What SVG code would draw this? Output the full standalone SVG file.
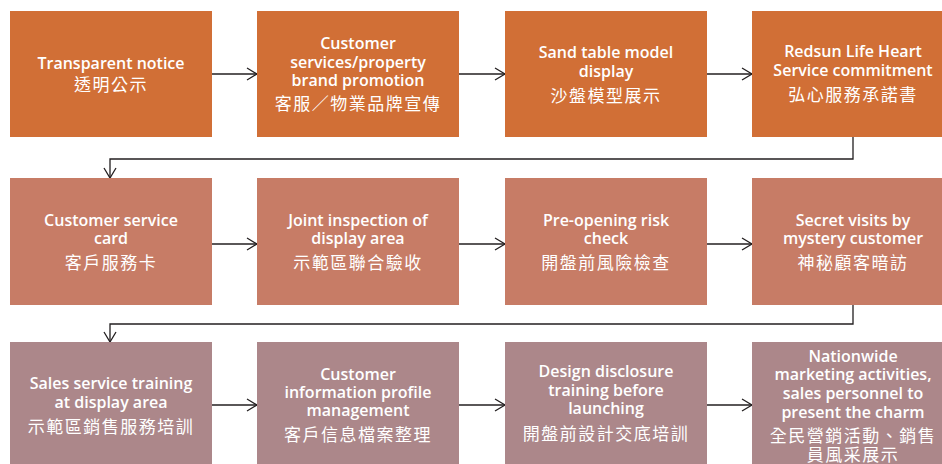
<svg xmlns="http://www.w3.org/2000/svg" width="942" height="464" viewBox="0 0 942 464">
<defs>
<style>
.r1{fill:#D16F36}.r2{fill:#C77C66}.r3{fill:#AC878A}
.en{font-family:"Open Sans","Liberation Sans",sans-serif;font-weight:600;font-size:16px;fill:#FFFFFF;text-anchor:middle}
.zh{font-family:"Noto Sans CJK TC","Noto Sans CJK SC",sans-serif;font-size:17px;fill:#FFFFFF;text-anchor:middle;letter-spacing:1.5px}
.ln{fill:none;stroke:#231F20;stroke-width:1.3}
</style>
<marker id="ah" markerUnits="userSpaceOnUse" markerWidth="14" markerHeight="16" viewBox="-12 -8 14 16" refX="0" refY="0" orient="auto">
<path d="M-10,-6 L0,0 L-10,6" fill="none" stroke="#231F20" stroke-width="1.3"/>
</marker>
</defs>
<rect width="942" height="464" fill="#FFFFFF"/>
<g id="connectors">
<path class="ln" d="M212,74 H257" marker-end="url(#ah)"/>
<path class="ln" d="M459,74 H505" marker-end="url(#ah)"/>
<path class="ln" d="M707,74 H752" marker-end="url(#ah)"/>
<path class="ln" d="M853,137 V159 H110 V178" marker-end="url(#ah)"/>
<path class="ln" d="M212,244 H257" marker-end="url(#ah)"/>
<path class="ln" d="M459,244 H505" marker-end="url(#ah)"/>
<path class="ln" d="M707,244 H752" marker-end="url(#ah)"/>
<path class="ln" d="M853,305 V324 H110 V342" marker-end="url(#ah)"/>
<path class="ln" d="M212,405 H257" marker-end="url(#ah)"/>
<path class="ln" d="M459,405 H505" marker-end="url(#ah)"/>
<path class="ln" d="M707,405 H752" marker-end="url(#ah)"/>
</g>
<g id="n1">
<rect class="r1" x="10" y="11" width="202" height="126"/>
<text class="en" x="111" y="69">Transparent notice</text>
<text class="zh" x="111" y="91">透明公示</text>
</g>
<g id="n2">
<rect class="r1" x="257" y="11" width="202" height="126"/>
<text class="en" x="358" y="49">Customer</text>
<text class="en" x="358" y="67.5">services/property</text>
<text class="en" x="358" y="86">brand promotion</text>
<text class="zh" x="358" y="110">客服／物業品牌宣傳</text>
</g>
<g id="n3">
<rect class="r1" x="505" y="11" width="202" height="126"/>
<text class="en" x="606" y="58">Sand table model</text>
<text class="en" x="606" y="77">display</text>
<text class="zh" x="606" y="102">沙盤模型展示</text>
</g>
<g id="n4">
<rect class="r1" x="752" y="11" width="202" height="126"/>
<text class="en" x="853" y="57">Redsun Life Heart</text>
<text class="en" x="853" y="76">Service commitment</text>
<text class="zh" x="853" y="101">弘心服務承諾書</text>
</g>
<g id="n5">
<rect class="r2" x="10" y="178" width="202" height="127"/>
<text class="en" x="111" y="226">Customer service</text>
<text class="en" x="111" y="244">card</text>
<text class="zh" x="111" y="269">客戶服務卡</text>
</g>
<g id="n6">
<rect class="r2" x="257" y="178" width="202" height="127"/>
<text class="en" x="358" y="226">Joint inspection of</text>
<text class="en" x="358" y="244">display area</text>
<text class="zh" x="358" y="269">示範區聯合驗收</text>
</g>
<g id="n7">
<rect class="r2" x="505" y="178" width="202" height="127"/>
<text class="en" x="606" y="226">Pre-opening risk</text>
<text class="en" x="606" y="244">check</text>
<text class="zh" x="606" y="269">開盤前風險檢查</text>
</g>
<g id="n8">
<rect class="r2" x="752" y="178" width="202" height="127"/>
<text class="en" x="853" y="226">Secret visits by</text>
<text class="en" x="853" y="244">mystery customer</text>
<text class="zh" x="853" y="269">神秘顧客暗訪</text>
</g>
<g id="n9">
<rect class="r3" x="10" y="342" width="202" height="127"/>
<text class="en" x="111" y="389">Sales service training</text>
<text class="en" x="111" y="408">at display area</text>
<text class="zh" x="111" y="433">示範區銷售服務培訓</text>
</g>
<g id="n10">
<rect class="r3" x="257" y="342" width="202" height="127"/>
<text class="en" x="358" y="380">Customer</text>
<text class="en" x="358" y="398">information profile</text>
<text class="en" x="358" y="416">management</text>
<text class="zh" x="358" y="441">客戶信息檔案整理</text>
</g>
<g id="n11">
<rect class="r3" x="505" y="342" width="202" height="127"/>
<text class="en" x="606" y="377">Design disclosure</text>
<text class="en" x="606" y="396">training before</text>
<text class="en" x="606" y="414">launching</text>
<text class="zh" x="606" y="440">開盤前設計交底培訓</text>
</g>
<g id="n12">
<rect class="r3" x="752" y="342" width="202" height="127"/>
<text class="en" x="853" y="362">Nationwide</text>
<text class="en" x="853" y="380">marketing activities,</text>
<text class="en" x="853" y="399">sales personnel to</text>
<text class="en" x="853" y="418">present the charm</text>
<text class="zh" x="853" y="442">全民營銷活動、銷售</text>
<text class="zh" x="853" y="461">員風采展示</text>
</g>
</svg>
